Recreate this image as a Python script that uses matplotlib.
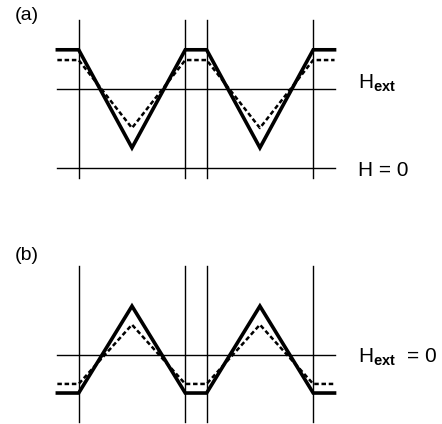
import numpy as np
import matplotlib.pyplot as plt

plt.rcParams['font.family'] = ['Liberation Sans', 'DejaVu Sans']
plt.rcParams['mathtext.fontset'] = 'custom'
plt.rcParams['mathtext.rm'] = 'Liberation Sans'
plt.rcParams['mathtext.bf'] = 'Liberation Sans:bold'

# domain walls (x) and extent of the horizontal reference lines
walls = [0.0, 1.0, 1.2, 2.2]
x_left, x_right = -0.2, 2.4

# panel (a): field in units of H_ext
a_levels = {'H_ext': 1.0, 'H0': 0.0}
a_solid_flat, a_solid_min = 1.50, 0.26
a_dash_flat, a_dash_min = 1.37, 0.51

# panel (b): H_ext = 0
b_solid_flat, b_solid_peak = -0.485, 0.615
b_dash_flat, b_dash_peak = -0.37, 0.38

THIN, THICK, DASH = 1.0, 2.6, 1.8
dash_style = (0, (1.8, 1.1))


def profile(flat, tip):
    xs = [x_left, walls[0], 0.5, walls[1], walls[2], 1.7, walls[3], x_right]
    ys = [flat, flat, tip, flat, flat, tip, flat, flat]
    return xs, ys


fig = plt.figure(figsize=(4.42, 4.24), dpi=100)
xlim = (-0.738, 3.408)

# ---- (a)
ax = fig.add_axes([0, 0.5, 1, 0.5])
ax.set_xlim(*xlim)
ax.set_ylim(-0.553, 2.13)
ax.axis('off')
for w in walls:
    ax.plot([w, w], [-0.123, 1.877], color='k', lw=THIN)
for lv in a_levels.values():
    ax.plot([x_left, x_right], [lv, lv], color='k', lw=THIN)
xs, ys = profile(a_solid_flat, a_solid_min)
ax.plot(xs, ys, color='k', lw=THICK, solid_joinstyle='miter')
xs, ys = profile(a_dash_flat, a_dash_min)
ax.plot(xs, ys, color='k', lw=DASH, ls=dash_style)
ax.text(-0.6, 1.93, '(a)', fontsize=14, va='center', ha='left')
ax.text(2.617, 1.01, r'H$_{\mathbf{ext}}$', fontsize=15, va='baseline', ha='left')
ax.text(2.617, -0.03, 'H = 0', fontsize=15, va='center', ha='left')

# ---- (b)
ax = fig.add_axes([0, 0, 1, 0.5])
ax.set_xlim(*xlim)
ax.set_ylim(-0.877, 1.806)
ax.axis('off')
for w in walls:
    ax.plot([w, w], [-0.852, 1.123], color='k', lw=THIN)
ax.plot([x_left, x_right], [0, 0], color='k', lw=THIN)
xs, ys = profile(b_solid_flat, b_solid_peak)
ax.plot(xs, ys, color='k', lw=THICK, solid_joinstyle='miter')
xs, ys = profile(b_dash_flat, b_dash_peak)
ax.plot(xs, ys, color='k', lw=DASH, ls=dash_style)
ax.text(-0.6, 1.26, '(b)', fontsize=14, va='center', ha='left')
ax.text(2.617, -0.1, r'H$_{\mathbf{ext}}$  = 0', fontsize=15, va='baseline', ha='left')

fig.savefig('out.png', dpi=100)
